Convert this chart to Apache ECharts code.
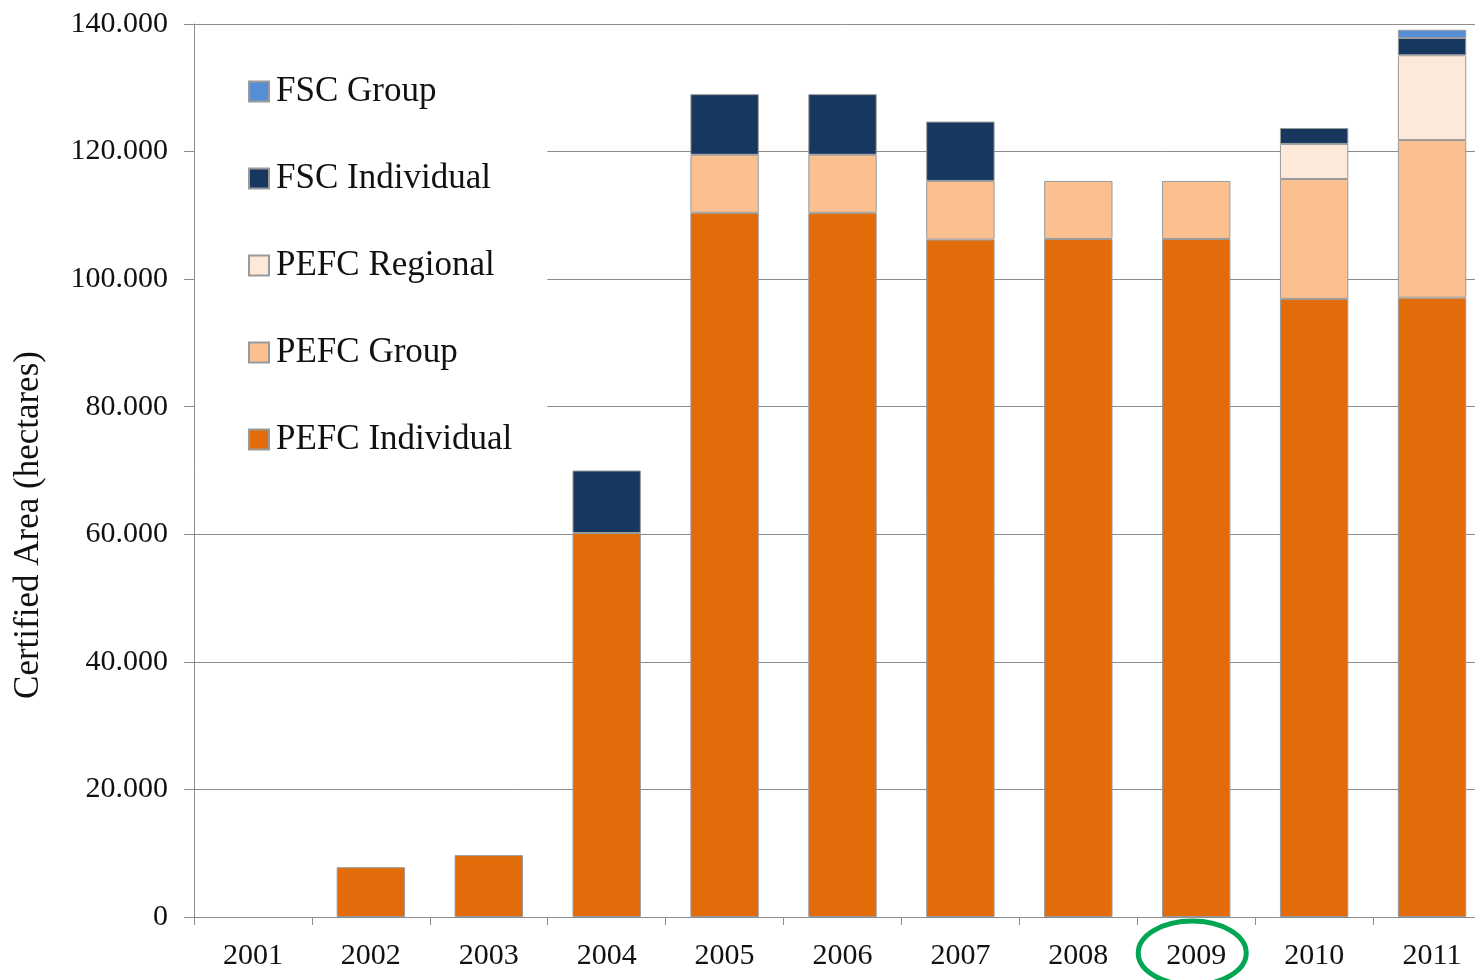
<!DOCTYPE html>
<html>
<head>
<meta charset="utf-8">
<script src="https://cdn.jsdelivr.net/npm/echarts@6/dist/echarts.min.js"></script>
<style>
  html, body { margin: 0; padding: 0; background: #fff; overflow: hidden; }
  /* a little wider than the window: the plot runs past the right edge, as in the original */
  #main { width: 1491px; height: 980px; }
</style>
</head>
<body>
<div id="main"></div>
<script>
// categories and stacked values (hectares)
const years = ['2001', '2002', '2003', '2004', '2005', '2006', '2007', '2008', '2009', '2010', '2011']
const pefcIndividual = [0, 7800, 9700, 60200, 110400, 110400, 106200, 106300, 106300, 96900, 97100]
const pefcGroup = [0, 0, 0, 0, 9100, 9100, 9200, 9100, 9100, 18800, 24700]
const pefcRegional = [0, 0, 0, 0, 0, 0, 0, 0, 0, 5500, 13300]
const fscIndividual = [0, 0, 0, 9800, 9500, 9500, 9300, 0, 0, 2500, 2700]
const fscGroup = [0, 0, 0, 0, 0, 0, 0, 0, 0, 0, 1300]
const yTicks = [0, 20000, 40000, 60000, 80000, 100000, 120000, 140000]

const font = '"Liberation Serif", "DejaVu Serif", serif'

const chart = echarts.init(document.getElementById('main'))

function fmt(v) {
  // 140000 -> 140.000
  if (v == 0) return '0'
  let s = String(v)
  return s.slice(0, s.length - 3) + '.' + s.slice(s.length - 3)
}

function mkSeries(name, data, color) {
  return {
    name: name,
    type: 'bar',
    stack: 'total',
    barWidth: '58%',
    // empty segments are not drawn
    data: data.map(v => v == 0 ? '-' : v),
    itemStyle: { color: color, borderColor: '#9a9a9a', borderWidth: 1 },
    emphasis: { disabled: true }
  }
}

let option = {
  animation: false,
  grid: { left: 194, right: 0, top: 24, bottom: 63 },
  legend: {
    orient: 'vertical',
    left: 195,
    top: 44,
    padding: [30, 35, 20, 53],
    backgroundColor: '#fff',
    icon: 'rect',
    itemWidth: 20,
    itemHeight: 20,
    itemGap: 52,
    data: ['FSC Group', 'FSC Individual', 'PEFC Regional', 'PEFC Group', 'PEFC Individual'],
    textStyle: { fontFamily: font, fontSize: 35, color: '#111', padding: [0, 0, 0, 2] }
  },
  xAxis: {
    type: 'category',
    data: years,
    axisLine: { lineStyle: { color: '#8c8c8c', width: 1 } },
    axisTick: { show: true, length: 8, lineStyle: { color: '#8c8c8c' } },
    axisLabel: { fontFamily: font, fontSize: 30, color: '#111', margin: 24 }
  },
  yAxis: {
    type: 'value',
    min: 0,
    max: yTicks[yTicks.length - 1],
    interval: 20000,
    axisLine: { show: true, lineStyle: { color: '#8c8c8c', width: 1 } },
    axisTick: { show: true, length: 10, lineStyle: { color: '#8c8c8c' } },
    splitLine: { lineStyle: { color: '#8c8c8c', width: 1 } },
    axisLabel: { fontFamily: font, fontSize: 30, color: '#111', margin: 26, formatter: fmt }
  },
  series: [
    mkSeries('PEFC Individual', pefcIndividual, '#E36C0A'),
    mkSeries('PEFC Group', pefcGroup, '#FAC090'),
    mkSeries('PEFC Regional', pefcRegional, '#FDE9D9'),
    mkSeries('FSC Individual', fscIndividual, '#17375E'),
    mkSeries('FSC Group', fscGroup, '#558ED5')
  ]
}
chart.setOption(option)

// axis name and the highlight ring round 2009
let c = chart.convertToPixel({ xAxisIndex: 0 }, '2009')
chart.setOption({
  graphic: [
    {
      type: 'text',
      x: 29, y: 525,
      rotation: Math.PI / 2,
      style: {
        text: 'Certified Area (hectares)',
        font: '35px ' + font,
        fill: '#111',
        align: 'center',
        verticalAlign: 'middle'
      }
    },
    {
      type: 'ellipse',
      shape: { cx: c - 4, cy: 953, rx: 54, ry: 32 },
      style: { fill: null, stroke: '#00A651', lineWidth: 5 }
    }
  ]
})
</script>
</body>
</html>
